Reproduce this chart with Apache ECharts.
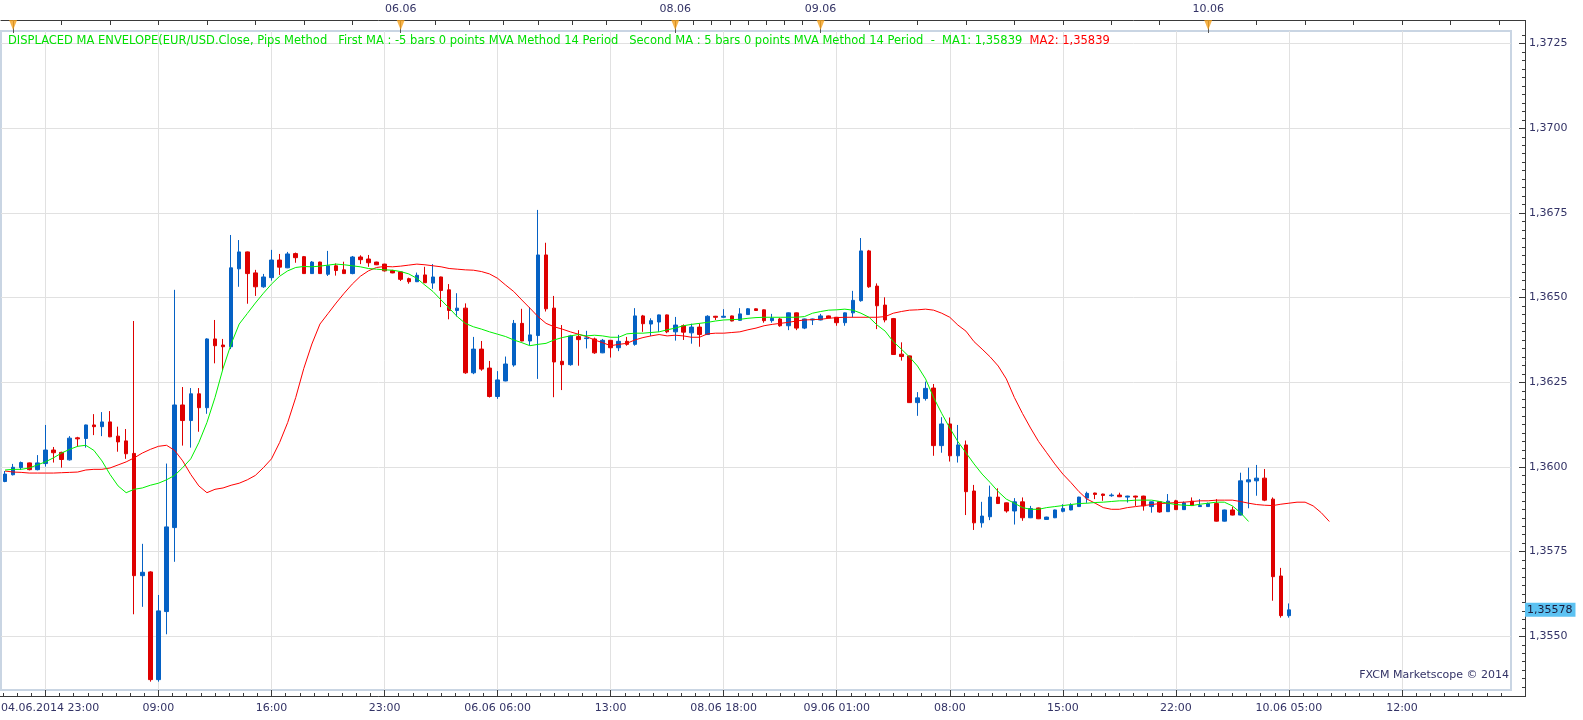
<!DOCTYPE html>
<html>
<head>
<meta charset="utf-8">
<script src="https://cdn.jsdelivr.net/npm/echarts@6/dist/echarts.min.js"></script>
<style>
  html, body { margin: 0; padding: 0; background: #fff; }
  #chart { width: 1583px; height: 720px; }
</style>
</head>
<body>
<div id="chart"></div>
<script>
// EUR/USD 30 min bars, 04.06.2014 23:30 .. 10.06.2014 05:00
const opens = [
  1.35957, 1.35977, 1.35998, 1.36012, 1.35992, 1.36010, 1.36050, 1.36043, 1.36021, 1.36086,
  1.36084, 1.36124, 1.36119, 1.36133, 1.36091, 1.36077, 1.36040, 1.35679, 1.35690, 1.35372,
  1.35573, 1.35821, 1.36183, 1.36137, 1.36216, 1.36175, 1.36378, 1.36360, 1.36355, 1.36585,
  1.36635, 1.36573, 1.36532, 1.36559, 1.36611, 1.36588, 1.36630, 1.36621, 1.36571, 1.36605,
  1.36569, 1.36594, 1.36582, 1.36571, 1.36620, 1.36614, 1.36605, 1.36599, 1.36580, 1.36576,
  1.36556, 1.36547, 1.36567, 1.36543, 1.36561, 1.36523, 1.36462, 1.36469, 1.36278, 1.36348,
  1.36292, 1.36208, 1.36254, 1.36301, 1.36424, 1.36372, 1.36388, 1.36626, 1.36469, 1.36312,
  1.36302, 1.36385, 1.36379, 1.36378, 1.36337, 1.36374, 1.36352, 1.36371, 1.36362, 1.36446,
  1.36422, 1.36428, 1.36449, 1.36399, 1.36417, 1.36396, 1.36413, 1.36391, 1.36445, 1.36442,
  1.36446, 1.36433, 1.36450, 1.36467, 1.36464, 1.36432, 1.36437, 1.36417, 1.36455, 1.36410,
  1.36434, 1.36434, 1.36446, 1.36442, 1.36426, 1.36455, 1.36491, 1.36638, 1.36534, 1.36478,
  1.36438, 1.36333, 1.36328, 1.36190, 1.36202, 1.36233, 1.36063, 1.36127, 1.36033, 1.36065,
  1.35929, 1.35835, 1.35853, 1.35911, 1.35894, 1.35870, 1.35897, 1.35850, 1.35879, 1.35845,
  1.35850, 1.35869, 1.35873, 1.35883, 1.35908, 1.35923, 1.35920, 1.35915, 1.35917, 1.35911,
  1.35914, 1.35914, 1.35883, 1.35897, 1.35868, 1.35900, 1.35874, 1.35899, 1.35883, 1.35883,
  1.35892, 1.35840, 1.35873, 1.35858, 1.35956, 1.35959, 1.35967, 1.35905, 1.35678, 1.35561
];
const highs = [
  1.35988, 1.36009, 1.36016, 1.36013, 1.36035, 1.36124, 1.36059, 1.36045, 1.36091, 1.36089,
  1.36125, 1.36156, 1.36162, 1.36165, 1.36119, 1.36112, 1.36431, 1.35773, 1.35692, 1.35622,
  1.36010, 1.36523, 1.36236, 1.36233, 1.36233, 1.36380, 1.36434, 1.36378, 1.36685, 1.36670,
  1.36636, 1.36582, 1.36570, 1.36641, 1.36629, 1.36635, 1.36633, 1.36623, 1.36608, 1.36606,
  1.36638, 1.36601, 1.36606, 1.36623, 1.36625, 1.36626, 1.36606, 1.36600, 1.36582, 1.36577,
  1.36559, 1.36574, 1.36591, 1.36599, 1.36562, 1.36540, 1.36513, 1.36483, 1.36384, 1.36372,
  1.36313, 1.36283, 1.36326, 1.36434, 1.36467, 1.36472, 1.36759, 1.36662, 1.36505, 1.36419,
  1.36390, 1.36404, 1.36402, 1.36382, 1.36378, 1.36375, 1.36390, 1.36384, 1.36469, 1.36449,
  1.36439, 1.36450, 1.36450, 1.36443, 1.36421, 1.36423, 1.36424, 1.36448, 1.36446, 1.36466,
  1.36447, 1.36469, 1.36469, 1.36468, 1.36465, 1.36452, 1.36440, 1.36456, 1.36456, 1.36438,
  1.36438, 1.36452, 1.36447, 1.36443, 1.36456, 1.36520, 1.36676, 1.36641, 1.36542, 1.36501,
  1.36440, 1.36368, 1.36329, 1.36221, 1.36252, 1.36245, 1.36147, 1.36146, 1.36124, 1.36078,
  1.35947, 1.35897, 1.35945, 1.35937, 1.35895, 1.35908, 1.35910, 1.35885, 1.35880, 1.35853,
  1.35874, 1.35890, 1.35893, 1.35912, 1.35927, 1.35924, 1.35921, 1.35922, 1.35924, 1.35915,
  1.35915, 1.35915, 1.35898, 1.35898, 1.35920, 1.35903, 1.35898, 1.35910, 1.35905, 1.35895,
  1.35905, 1.35874, 1.35883, 1.35983, 1.35998, 1.36006, 1.35994, 1.35910, 1.35702, 1.35597
];
const lows = [
  1.35955, 1.35975, 1.35991, 1.35990, 1.35990, 1.36001, 1.36013, 1.35998, 1.36019, 1.36060,
  1.36057, 1.36094, 1.36091, 1.36088, 1.36045, 1.36024, 1.35565, 1.35587, 1.35366, 1.35366,
  1.35506, 1.35720, 1.36063, 1.36057, 1.36104, 1.36157, 1.36306, 1.36286, 1.36348, 1.36532,
  1.36482, 1.36505, 1.36529, 1.36550, 1.36567, 1.36587, 1.36603, 1.36570, 1.36570, 1.36570,
  1.36564, 1.36565, 1.36570, 1.36569, 1.36599, 1.36591, 1.36596, 1.36577, 1.36572, 1.36549,
  1.36541, 1.36546, 1.36543, 1.36526, 1.36472, 1.36436, 1.36444, 1.36275, 1.36274, 1.36284,
  1.36205, 1.36201, 1.36253, 1.36296, 1.36371, 1.36360, 1.36260, 1.36459, 1.36206, 1.36227,
  1.36299, 1.36299, 1.36350, 1.36334, 1.36336, 1.36323, 1.36342, 1.36358, 1.36358, 1.36399,
  1.36387, 1.36399, 1.36395, 1.36373, 1.36375, 1.36364, 1.36355, 1.36390, 1.36434, 1.36441,
  1.36430, 1.36432, 1.36449, 1.36461, 1.36426, 1.36426, 1.36414, 1.36404, 1.36404, 1.36407,
  1.36419, 1.36433, 1.36439, 1.36417, 1.36417, 1.36442, 1.36488, 1.36529, 1.36407, 1.36427,
  1.36331, 1.36314, 1.36189, 1.36151, 1.36196, 1.36033, 1.36042, 1.36016, 1.36013, 1.35858,
  1.35814, 1.35821, 1.35843, 1.35891, 1.35865, 1.35830, 1.35841, 1.35849, 1.35846, 1.35844,
  1.35849, 1.35866, 1.35872, 1.35882, 1.35894, 1.35905, 1.35900, 1.35912, 1.35911, 1.35895,
  1.35885, 1.35871, 1.35865, 1.35865, 1.35867, 1.35873, 1.35873, 1.35885, 1.35882, 1.35882,
  1.35839, 1.35839, 1.35857, 1.35857, 1.35878, 1.35915, 1.35899, 1.35605, 1.35555, 1.35555
];
const closes = [
  1.35979, 1.35999, 1.36013, 1.35992, 1.36012, 1.36050, 1.36042, 1.36022, 1.36085, 1.36083,
  1.36124, 1.36119, 1.36133, 1.36089, 1.36074, 1.36039, 1.35679, 1.35689, 1.35372, 1.35575,
  1.35823, 1.36183, 1.36137, 1.36216, 1.36175, 1.36378, 1.36358, 1.36355, 1.36588, 1.36635,
  1.36571, 1.36532, 1.36561, 1.36611, 1.36590, 1.36629, 1.36618, 1.36571, 1.36605, 1.36571,
  1.36594, 1.36580, 1.36571, 1.36620, 1.36612, 1.36603, 1.36597, 1.36579, 1.36573, 1.36554,
  1.36547, 1.36566, 1.36544, 1.36561, 1.36521, 1.36462, 1.36469, 1.36278, 1.36348, 1.36289,
  1.36208, 1.36257, 1.36304, 1.36424, 1.36372, 1.36390, 1.36626, 1.36467, 1.36310, 1.36302,
  1.36387, 1.36376, 1.36381, 1.36337, 1.36374, 1.36352, 1.36371, 1.36362, 1.36446, 1.36423,
  1.36432, 1.36449, 1.36399, 1.36419, 1.36398, 1.36413, 1.36391, 1.36445, 1.36442, 1.36445,
  1.36431, 1.36452, 1.36467, 1.36462, 1.36432, 1.36439, 1.36417, 1.36455, 1.36410, 1.36437,
  1.36437, 1.36446, 1.36440, 1.36426, 1.36455, 1.36492, 1.36638, 1.36532, 1.36476, 1.36434,
  1.36332, 1.36326, 1.36190, 1.36204, 1.36232, 1.36063, 1.36127, 1.36033, 1.36065, 1.35927,
  1.35835, 1.35855, 1.35911, 1.35892, 1.35870, 1.35897, 1.35850, 1.35877, 1.35847, 1.35852,
  1.35873, 1.35877, 1.35887, 1.35911, 1.35922, 1.35919, 1.35916, 1.35917, 1.35912, 1.35914,
  1.35911, 1.35885, 1.35897, 1.35867, 1.35899, 1.35874, 1.35894, 1.35886, 1.35886, 1.35892,
  1.35840, 1.35873, 1.35858, 1.35959, 1.35962, 1.35967, 1.35902, 1.35676, 1.35561, 1.35578
];

// 14 period MVA (shown +5 bars), first value sits under bar 0
const ma14 = [
  1.35988, 1.35985, 1.35984, 1.35982, 1.35982, 1.35982, 1.35982, 1.35983, 1.35984, 1.35985,
  1.35991, 1.35993, 1.35993, 1.35997, 1.36006, 1.36015, 1.36027, 1.36041, 1.36052, 1.36061,
  1.36064, 1.36049, 1.36018, 1.35978, 1.35944, 1.35924, 1.35934, 1.35938, 1.35946, 1.35952,
  1.35962, 1.35975, 1.35998, 1.36024, 1.36072, 1.36131, 1.36205, 1.36291, 1.36363, 1.36422,
  1.36453, 1.36484, 1.36513, 1.36540, 1.36563, 1.36579, 1.36589, 1.36592, 1.36591, 1.36593,
  1.36596, 1.36599, 1.36597, 1.36594, 1.36591, 1.36586, 1.36584, 1.36582, 1.36581, 1.36577,
  1.36570, 1.36557, 1.36537, 1.36518, 1.36493, 1.36469, 1.36444, 1.36424, 1.36414, 1.36407,
  1.36399, 1.36392, 1.36385, 1.36375, 1.36367, 1.36358, 1.36362, 1.36365, 1.36375, 1.36382,
  1.36387, 1.36391, 1.36387, 1.36389, 1.36387, 1.36383, 1.36383, 1.36393, 1.36395, 1.36395,
  1.36397, 1.36399, 1.36405, 1.36410, 1.36417, 1.36421, 1.36424, 1.36427, 1.36431, 1.36434,
  1.36435, 1.36436, 1.36439, 1.36441, 1.36442, 1.36442, 1.36442, 1.36442, 1.36442, 1.36444,
  1.36454, 1.36459, 1.36463, 1.36464, 1.36466, 1.36463, 1.36454, 1.36442, 1.36419, 1.36401,
  1.36370, 1.36348, 1.36325, 1.36298, 1.36260, 1.36205, 1.36158, 1.36115, 1.36075, 1.36042,
  1.36009, 1.35979, 1.35954, 1.35927, 1.35905, 1.35893, 1.35880, 1.35875, 1.35875, 1.35880,
  1.35883, 1.35886, 1.35889, 1.35892, 1.35893, 1.35895, 1.35896, 1.35898, 1.35900, 1.35900,
  1.35902, 1.35902, 1.35902, 1.35898, 1.35893, 1.35889, 1.35887, 1.35886, 1.35890, 1.35893,
  1.35896, 1.35896, 1.35885, 1.35865, 1.35839
];
const ma1Shift = -5;   // First MA : -5 bars
const ma2Shift = 5;    // Second MA : 5 bars

const slotCount = 187;                 // bars + empty space on the right
const priceTicks = [1.3550, 1.3575, 1.3600, 1.3625, 1.3650, 1.3675, 1.3700, 1.3725];
const timeTickIdx = [19, 33, 47, 61, 75, 89, 103, 117, 131, 145, 159, 173];
const timeTickText = ['09:00', '16:00', '23:00', '06.06 06:00', '13:00', '08.06 18:00',
  '09.06 01:00', '08:00', '15:00', '22:00', '10.06 05:00', '12:00'];
const firstLabel = '04.06.2014 23:00';
const dayStartIdx = [1, 49, 83, 101, 149];
const dayBars = [48, 34, 18, 48, 48];
const dayText = ['05.06', '06.06', '08.06', '09.06', '10.06'];

const yMin = 1.353414, yMax = 1.372873;
const gridLeft = 1, gridTop = 31, gridW = 1510, gridH = 659;
const navy = '#333366';
const font = 'DejaVu Sans';

const cats = closes.map((_, i) => i);
while (cats.length < slotCount) cats.push(cats.length);

const candleData = opens.map((o, i) => [o, closes[i], lows[i], highs[i]]);
const redLine = cats.map(i => (i - ma2Shift + 5 >= 0 && i - ma2Shift + 5 < ma14.length) ? ma14[i - ma2Shift + 5] : null);
const greenLine = cats.map(i => (i - ma1Shift + 5 < ma14.length && i < closes.length) ? ma14[i - ma1Shift + 5] : null);

const fmtPrice = (v, d) => v.toFixed(d).replace('.', ',');

// tick positions
const majorX = [5].concat(timeTickIdx);
const minorX = [];
for (let x = 5 - 1.75 * 3; x <= 186.5; x += 1.75) if (x >= -0.5) minorX.push(x);
const topTicks = [];
dayStartIdx.forEach((s, d) => {
  for (let k = 1; k < 8; k++) {
    const x = s + k * dayBars[d] / 8;
    if (x <= 186.5) topTicks.push(x);
  }
});
const minorY = [];
for (let k = 0; k < 80; k++) {
  const v = 1.3535 + k * 0.00025;
  if (v > yMin && v < yMax) minorY.push(+v.toFixed(5));
}

const chart = echarts.init(document.getElementById('chart'), null, { renderer: 'canvas' });

const valueX = (grid, pos, extra) => Object.assign({
  type: 'value', gridIndex: grid, position: pos, min: -0.5, max: slotCount - 0.5,
  axisLine: { show: false, onZero: false }, axisTick: { show: false }, axisLabel: { show: false },
  splitLine: { show: false }
}, extra);

const option = {
  animation: false,
  backgroundColor: '#fff',
  textStyle: { fontFamily: font },
  grid: [
    { left: gridLeft, top: gridTop, width: gridW, height: gridH, show: true,
      borderColor: '#c9d5e3', borderWidth: 2, backgroundColor: '#fff', outerBoundsMode: 'none' },
    { left: gridLeft, top: 20, width: gridW, height: 11, outerBoundsMode: 'none' },
    { left: gridLeft, top: gridTop, width: gridW, height: gridH, outerBoundsMode: 'none' }
  ],
  xAxis: [
    { type: 'category', gridIndex: 0, data: cats, boundaryGap: true, show: false },
    valueX(0, 'bottom', {
      offset: 6,
      axisLine: { show: true, onZero: false, lineStyle: { color: '#3a3a3a', width: 1 } },
      axisTick: { show: true, inside: true, length: 6, customValues: majorX,
        lineStyle: { color: '#3a3a3a' } },
      axisLabel: { show: true, customValues: timeTickIdx, color: navy, fontSize: 11,
        fontFamily: font, margin: 7,
        formatter: v => timeTickText[timeTickIdx.indexOf(Math.round(v))] || '' },
      splitLine: { show: true, lineStyle: { color: '#e1e1e1', width: 1 } }
    }),
    valueX(0, 'bottom', {
      offset: 6,
      axisTick: { show: true, inside: true, length: 3, customValues: minorX,
        lineStyle: { color: '#3a3a3a' } }
    }),
    valueX(1, 'top', {
      axisLine: { show: true, onZero: false, lineStyle: { color: '#3a3a3a', width: 1 } },
      axisTick: { show: true, inside: true, length: 5, customValues: topTicks,
        lineStyle: { color: '#3a3a3a' } },
      axisLabel: { show: true, customValues: dayStartIdx.slice(1), color: navy, fontSize: 11,
        fontFamily: font, margin: 5,
        formatter: v => dayText[dayStartIdx.indexOf(Math.round(v))] || '' }
    }),
    valueX(1, 'top', {
      axisTick: { show: true, inside: true, length: 13, customValues: dayStartIdx,
        lineStyle: { color: '#555' } }
    }),
    valueX(2, 'bottom', {})
  ],
  yAxis: [
    { type: 'value', gridIndex: 0, position: 'right', offset: 14, min: yMin, max: yMax,
      axisLine: { show: true, onZero: false, lineStyle: { color: '#3a3a3a' } },
      axisTick: { show: true, inside: true, length: 6, customValues: priceTicks,
        lineStyle: { color: '#3a3a3a' } },
      axisLabel: { customValues: priceTicks, color: navy, fontSize: 11, fontFamily: font,
        margin: 4, formatter: v => fmtPrice(v, 4) },
      splitLine: { show: true, lineStyle: { color: '#e1e1e1', width: 1 } }
    },
    { type: 'value', gridIndex: 2, position: 'right', offset: 14, min: yMin, max: yMax,
      axisLine: { show: false, onZero: false }, axisLabel: { show: false }, splitLine: { show: false },
      axisTick: { show: true, inside: true, length: 3, customValues: minorY,
        lineStyle: { color: '#3a3a3a' } }
    },
    { type: 'value', gridIndex: 1, min: 0, max: 1, show: false, axisLine: { onZero: false } }
  ],
  series: [
    {
      type: 'candlestick', xAxisIndex: 0, yAxisIndex: 0,
      data: candleData, barWidth: 4,
      itemStyle: { color: '#0561c4', color0: '#de0000', borderColor: '#0561c4',
        borderColor0: '#de0000', borderWidth: 1 },
      markLine: {
        silent: true, symbol: 'none', animation: false, precision: 5,
        lineStyle: { color: 'rgba(0,0,0,0)', width: 0 },
        label: { show: true, position: 'end', distance: 14, color: '#1b1b3a', fontSize: 11,
          fontFamily: font, backgroundColor: '#5cc2f2', padding: [2, 3, 1, 2],
          formatter: p => fmtPrice(p.value, 5) },
        data: [{ yAxis: closes[closes.length - 1] }]
      }
    },
    { type: 'line', xAxisIndex: 0, yAxisIndex: 0, data: redLine, showSymbol: false,
      symbol: 'none', lineStyle: { color: '#ff0000', width: 1 }, connectNulls: false },
    { type: 'line', xAxisIndex: 0, yAxisIndex: 0, data: greenLine, showSymbol: false,
      symbol: 'none', lineStyle: { color: '#00f000', width: 1 }, connectNulls: false },
    { type: 'scatter', xAxisIndex: 3, yAxisIndex: 2,
      data: dayStartIdx.map(d => [d, 1]), symbol: 'triangle', symbolRotate: 180,
      symbolSize: [8, 10], symbolOffset: [0, 5],
      itemStyle: { color: '#f5a01a' }, z: 5 }
  ],
  graphic: [
    { type: 'text', left: 8, top: 35, z: 10,
      style: {
        text: '{g|DISPLACED MA ENVELOPE(EUR/USD.Close, Pips Method   First MA : -5 bars 0 points MVA Method 14 Period   Second MA : 5 bars 0 points MVA Method 14 Period  -  MA1: '
          + fmtPrice(greenLine[closes.length + ma1Shift - 1], 5) + '}{r|  MA2: '
          + fmtPrice(redLine[closes.length + ma2Shift - 1], 5) + '}',
        rich: {
          g: { fill: '#00e000', fontSize: 11.5, fontFamily: font },
          r: { fill: '#ff0000', fontSize: 11.5, fontFamily: font }
        }
      } },
    { type: 'text', right: 1583 - 1509, top: 670, z: 10,
      style: { text: 'FXCM Marketscope \u00a9 2014', fill: navy, fontSize: 11, fontFamily: font } },
    { type: 'text', left: 1, top: 703, z: 10,
      style: { text: firstLabel, fill: navy, fontSize: 11, fontFamily: font } },
    { type: 'line', z: 10, shape: { x1: 1525.5, y1: 20, x2: 1525.5, y2: 31 }, style: { stroke: '#3a3a3a' } },
    { type: 'line', z: 10, shape: { x1: 1511, y1: 20.5, x2: 1526, y2: 20.5 }, style: { stroke: '#3a3a3a' } },
    { type: 'line', z: 10, shape: { x1: 1525.5, y1: 690, x2: 1525.5, y2: 697 }, style: { stroke: '#3a3a3a' } },
    { type: 'line', z: 10, shape: { x1: 1511, y1: 696.5, x2: 1526, y2: 696.5 }, style: { stroke: '#3a3a3a' } },
    { type: 'line', z: 10, shape: { x1: 0, y1: 696.5, x2: 1, y2: 696.5 }, style: { stroke: '#3a3a3a' } }
  ]
};

chart.setOption(option);
</script>
</body>
</html>
